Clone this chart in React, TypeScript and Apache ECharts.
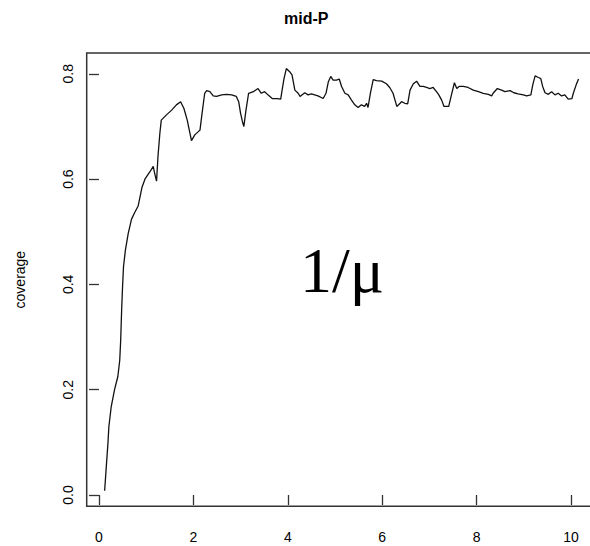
import React, { useEffect, useRef } from "react";
import * as echarts from "echarts";

const title = "mid-P";
const yAxisName = "coverage";
const annotation = "1/\u03bc";
const xTicks = [0, 2, 4, 6, 8, 10];
const yTicks = [0, 0.2, 0.4, 0.6, 0.8];

const xValues = [
  0.12, 0.16, 0.19, 0.21, 0.26, 0.33, 0.4, 0.44, 0.46, 0.48, 0.5, 0.52, 0.56, 0.62, 0.69, 0.76, 0.83, 0.86, 0.91, 0.98,
  1.08, 1.15, 1.18, 1.22, 1.25, 1.29, 1.32, 1.43, 1.54, 1.64, 1.73, 1.8, 1.87, 1.92, 1.96, 2.03, 2.14, 2.18, 2.24, 2.28,
  2.35, 2.42, 2.49, 2.6, 2.7, 2.81, 2.91, 2.96, 3.0, 3.04, 3.07, 3.11, 3.17, 3.27, 3.37, 3.44, 3.51, 3.58, 3.67, 3.78,
  3.85, 3.88, 3.92, 3.97, 4.04, 4.09, 4.15, 4.22, 4.26, 4.36, 4.43, 4.5, 4.57, 4.64, 4.75, 4.81, 4.86, 4.91, 4.96, 5.03,
  5.09, 5.14, 5.21, 5.28, 5.35, 5.42, 5.49, 5.56, 5.63, 5.67, 5.7, 5.75, 5.81, 5.88, 5.99, 6.09, 6.16, 6.23, 6.31, 6.38,
  6.41, 6.48, 6.54, 6.59, 6.66, 6.73, 6.8, 6.87, 6.94, 7.01, 7.08, 7.15, 7.2, 7.26, 7.31, 7.37, 7.41, 7.46, 7.53, 7.58,
  7.63, 7.72, 7.82, 7.93, 8.04, 8.14, 8.25, 8.32, 8.35, 8.44, 8.53, 8.6, 8.71, 8.79, 8.88, 8.99, 9.06, 9.15, 9.19, 9.24,
  9.31, 9.36, 9.4, 9.45, 9.52, 9.59, 9.66, 9.73, 9.8, 9.87, 9.94, 10.02, 10.05, 10.11, 10.16,
];

const coverage = [
  0.008, 0.06, 0.098, 0.13, 0.168, 0.2, 0.225, 0.256, 0.294, 0.351, 0.396, 0.434, 0.465, 0.497, 0.524, 0.537, 0.549, 0.562, 0.584, 0.601,
  0.614, 0.624, 0.611, 0.596, 0.643, 0.687, 0.712, 0.722, 0.731, 0.741, 0.747, 0.734, 0.712, 0.69, 0.673, 0.684, 0.693, 0.722, 0.763, 0.768,
  0.766, 0.758, 0.757, 0.76, 0.761, 0.76, 0.757, 0.747, 0.725, 0.709, 0.7, 0.728, 0.763, 0.766, 0.772, 0.763, 0.766, 0.76, 0.753, 0.753,
  0.752, 0.769, 0.791, 0.81, 0.804, 0.798, 0.769, 0.763, 0.757, 0.764, 0.76, 0.762, 0.76, 0.758, 0.753, 0.763, 0.785, 0.795, 0.788, 0.788,
  0.79, 0.776, 0.763, 0.76, 0.75, 0.741, 0.736, 0.741, 0.738, 0.744, 0.736, 0.763, 0.789, 0.787, 0.786, 0.781, 0.774, 0.763, 0.738, 0.744,
  0.747, 0.744, 0.743, 0.769, 0.781, 0.786, 0.776, 0.776, 0.774, 0.772, 0.774, 0.766, 0.76, 0.75, 0.738, 0.738, 0.738, 0.757, 0.783, 0.772,
  0.776, 0.776, 0.774, 0.769, 0.766, 0.763, 0.761, 0.758, 0.763, 0.772, 0.769, 0.766, 0.768, 0.764, 0.762, 0.76, 0.758, 0.76, 0.779, 0.796,
  0.793, 0.791, 0.776, 0.764, 0.761, 0.766, 0.76, 0.763, 0.758, 0.76, 0.752, 0.753, 0.763, 0.779, 0.79,
];

const FONT = "'Liberation Sans', Arial, sans-serif";

export default function App() {
  const ref = useRef<HTMLDivElement>(null);

  useEffect(() => {
    if (!ref.current) return;
    const chart = echarts.init(ref.current, undefined, { renderer: "svg" });
    const data = xValues.map((x, i) => [x, coverage[i]]);
    chart.setOption({
      animation: false,
      backgroundColor: "#ffffff",
      textStyle: { fontFamily: FONT },
      title: {
        text: title,
        left: 279,
        top: 5,
        textStyle: { fontFamily: FONT, fontSize: 16, fontWeight: "bold", color: "#000" },
      },
      grid: {
        left: 86.7,
        top: 53,
        right: 0.7,
        bottom: 39.7,
        show: true,
        borderColor: "#333",
        borderWidth: 1.5,
        backgroundColor: "transparent",
      },
      xAxis: {
        type: "value",
        min: -0.26,
        max: 10.6,
        splitLine: { show: false },
        axisLine: { show: false },
        axisTick: {
          show: true,
          length: 10,
          customValues: xTicks,
          lineStyle: { color: "#333", width: 1.3 },
        },
        axisLabel: {
          customValues: xTicks,
          margin: 24,
          fontSize: 14,
          fontFamily: FONT,
          color: "#000",
        },
      },
      yAxis: {
        type: "value",
        min: -0.0215,
        max: 0.8395,
        name: yAxisName,
        nameLocation: "middle",
        nameRotate: 90,
        nameGap: 60,
        nameTextStyle: { fontFamily: FONT, fontSize: 14, color: "#000" },
        splitLine: { show: false },
        axisLine: { show: false },
        axisTick: {
          show: true,
          length: 10,
          customValues: yTicks,
          lineStyle: { color: "#333", width: 1.3 },
        },
        axisLabel: {
          customValues: yTicks,
          rotate: 90,
          margin: 12,
          fontSize: 14,
          fontFamily: FONT,
          color: "#000",
          formatter: (v: number) => v.toFixed(1),
        },
      },
      graphic: [
        {
          type: "text",
          left: 300,
          top: 238,
          style: {
            text: annotation,
            fontFamily: "'Liberation Serif', 'Times New Roman', serif",
            fontSize: 64,
            fill: "#000",
          },
        },
      ],
      series: [
        {
          type: "line",
          data,
          showSymbol: false,
          symbol: "none",
          lineStyle: { color: "#111", width: 1.3 },
          clip: true,
        },
      ],
    });
    return () => chart.dispose();
  }, []);

  return (
    <div style={{ position: "fixed", left: 0, top: 0, width: 590, height: 546, overflow: "hidden", background: "#fff" }}>
      <div ref={ref} style={{ position: "absolute", left: 0, top: 0, width: 600, height: 546 }} />
    </div>
  );
}
